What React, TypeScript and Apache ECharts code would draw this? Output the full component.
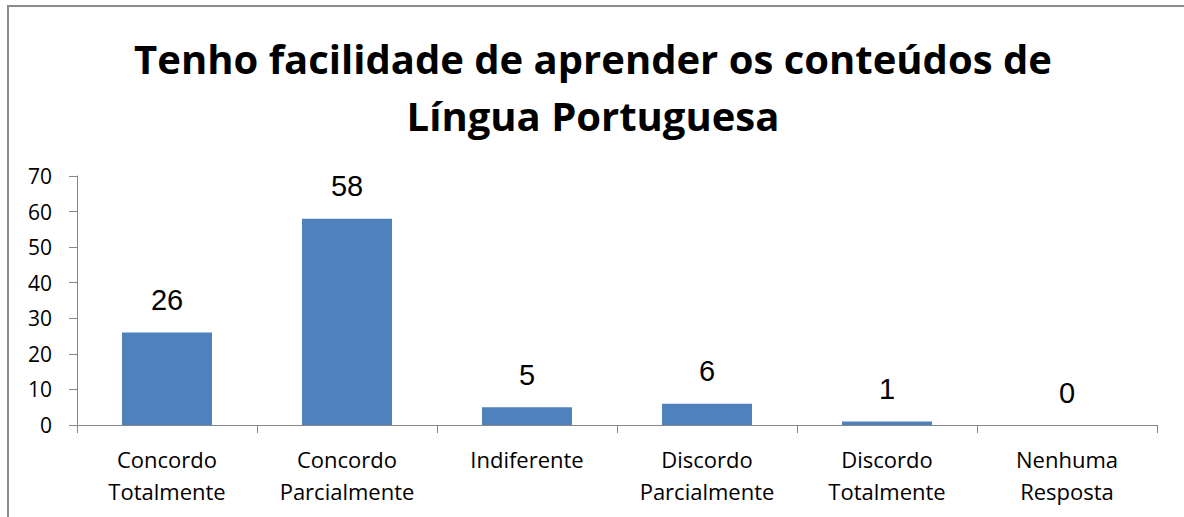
import React, { useEffect, useRef } from "react";
import * as echarts from "echarts";

const categories = [
  "Concordo\nTotalmente",
  "Concordo\nParcialmente",
  "Indiferente",
  "Discordo\nParcialmente",
  "Discordo\nTotalmente",
  "Nenhuma\nResposta",
];
const values = [26, 58, 5, 6, 1, 0];
const titleText = "Tenho facilidade de aprender os conteúdos de\nLíngua Portuguesa";

export default function App() {
  const ref = useRef<HTMLDivElement>(null);
  useEffect(() => {
    if (!ref.current) return;
    const chart = echarts.init(ref.current, null, { renderer: "svg" });
    chart.setOption({
      animation: false,
      backgroundColor: "#ffffff",
      title: {
        text: titleText,
        left: 588,
        top: 25,
        textAlign: "center",
        textStyle: {
          fontFamily: "Open Sans",
          fontWeight: "bold",
          fontSize: 40,
          lineHeight: 57,
          color: "#000000",
        },
      },
      graphic: [
        {
          type: "rect",
          shape: { x: 8, y: 6, width: 1300, height: 700 },
          style: { fill: "none", stroke: "#8c8c8c", lineWidth: 2 },
          silent: true,
        },
      ],
      grid: { left: 77, right: 27, top: 176, bottom: 92 },
      xAxis: {
        type: "category",
        data: categories,
        axisLine: { lineStyle: { color: "#868686", width: 1 } },
        axisTick: { show: true, length: 8, lineStyle: { color: "#868686" } },
        axisLabel: {
          color: "#000000",
          fontFamily: "Open Sans",
          fontSize: 22,
          lineHeight: 32,
          margin: 18,
          interval: 0,
        },
      },
      yAxis: {
        type: "value",
        min: 0,
        max: 70,
        interval: 10,
        splitLine: { show: false },
        axisLine: { show: true, lineStyle: { color: "#868686", width: 1 } },
        axisTick: { show: true, length: 8, lineStyle: { color: "#868686" } },
        axisLabel: {
          color: "#000000",
          fontFamily: "Open Sans",
          fontSize: 21,
          margin: 25,
        },
      },
      series: [
        {
          type: "bar",
          data: values,
          barWidth: "50%",
          itemStyle: { color: "#4F81BD" },
          label: {
            show: true,
            position: "top",
            distance: 18,
            color: "#000000",
            fontFamily: "Liberation Sans",
            fontSize: 29,
          },
        },
      ],
    });
    return () => chart.dispose();
  }, []);
  return (
    <div
      ref={ref}
      style={{ position: "absolute", left: 0, top: 0, width: 1184, height: 517 }}
    />
  );
}
